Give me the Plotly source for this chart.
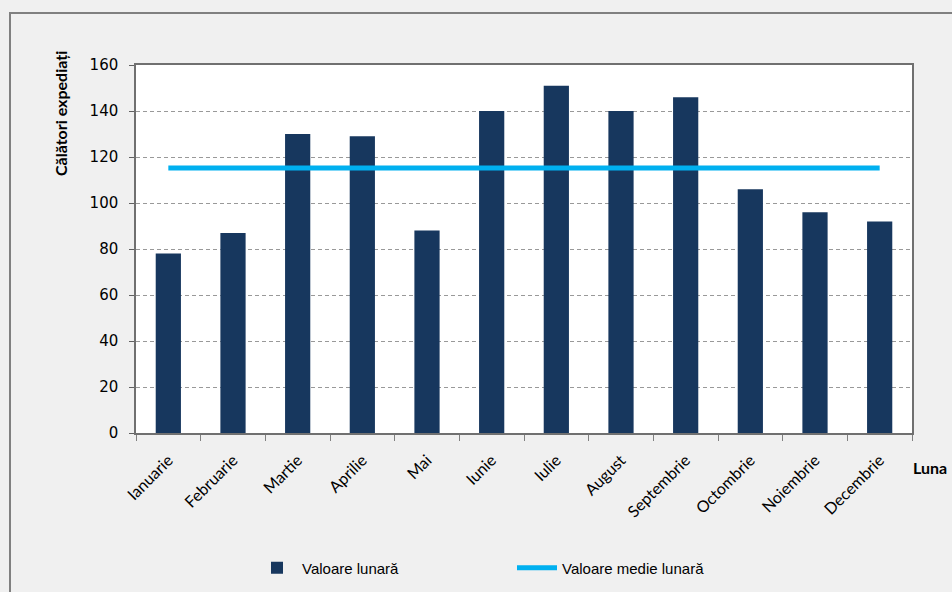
import plotly.graph_objects as go

months = ["Ianuarie", "Februarie", "Martie", "Aprilie", "Mai", "Iunie",
          "Iulie", "August", "Septembrie", "Octombrie", "Noiembrie", "Decembrie"]
monthly_values = [78, 87, 130, 129, 88, 140, 151, 140, 146, 106, 96, 92]
average_values = [115.25, 115.25, 115.25, 115.25, 115.25, 115.25,
                  115.25, 115.25, 115.25, 115.25, 115.25, 115.25]
y_ticks = [0, 20, 40, 60, 80, 100, 120, 140, 160]

fig = go.Figure()
fig.add_trace(go.Bar(x=months, y=monthly_values, name="Valoare lunară",
                     marker=dict(color="#17375e", line=dict(width=0))))
fig.add_trace(go.Scatter(x=months, y=average_values, name="Valoare medie lunară",
                         mode="lines", line=dict(color="#00b0f0", width=5)))

L, R, T, B = 136, 912, 65, 433
W, H = 952, 592
pw, ph = R - L, B - T

def px(x):
    return (x - L) / pw

def py(y):
    return (B - y) / ph

fig.update_layout(
    width=W, height=H,
    margin=dict(l=L, r=W - R, t=T, b=H - B),
    paper_bgcolor="#f0f0f0",
    plot_bgcolor="#ffffff",
    bargap=0.61,
    showlegend=True,
    legend=dict(orientation="h", x=px(252), xanchor="left",
                yref="container", y=1 - 568 / H, yanchor="middle",
                font=dict(family="Liberation Sans, Arial", size=15, color="#000000"),
                entrywidth=205, entrywidthmode="pixels", bgcolor="rgba(0,0,0,0)",
                itemwidth=40),
    font=dict(family="DejaVu Sans", color="#000000"),
)

fig.update_yaxes(range=[0, 160], tickvals=y_ticks, ticks="outside", ticklen=5,
                 tickcolor="#606060", showline=True, linecolor="#707070", linewidth=1.5,
                 mirror=True, showgrid=True, gridcolor="#999999", griddash="4px,3px",
                 gridwidth=1, zeroline=False, ticklabelstandoff=8,
                 tickfont=dict(family="DejaVu Sans", size=15, color="#000000"))
fig.update_xaxes(tickangle=-45, ticks="outside", tickson="boundaries", ticklen=6,
                 tickcolor="#808080", showline=True, linecolor="#707070", linewidth=1.5,
                 mirror=True, showgrid=False, ticklabelstandoff=10,
                 tickfont=dict(family="Lato, Carlito, Calibri", size=16, color="#000000"))

# outer chart frame
fig.add_shape(type="rect", xref="paper", yref="paper",
              x0=px(10), x1=px(1000), y0=py(640), y1=py(13),
              line=dict(color="#808080", width=2), fillcolor="rgba(0,0,0,0)", layer="below")

fig.add_annotation(text="<b>Călători expediați</b>", xref="paper", yref="paper",
                   x=px(60), y=py(114), xanchor="center", yanchor="middle",
                   textangle=-90, showarrow=False,
                   font=dict(family="Lato, Carlito, Calibri", size=16, color="#000000"))
fig.add_annotation(text="<b>Luna</b>", xref="paper", yref="paper",
                   x=px(930), y=py(467), xanchor="center", yanchor="middle",
                   showarrow=False,
                   font=dict(family="Lato, Carlito, Calibri", size=16, color="#000000"))

fig.write_html("out.html", config={"displayModeBar": False},
               post_script="document.body.style.margin='0';document.body.style.overflow='hidden';")
